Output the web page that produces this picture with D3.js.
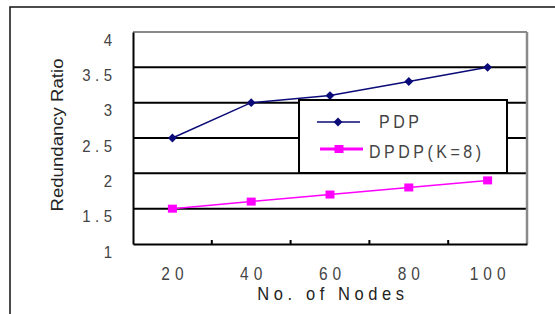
<!DOCTYPE html>
<html><head><meta charset="utf-8">
<script src="https://cdn.jsdelivr.net/npm/d3@7/dist/d3.min.js"></script>
<style>
html,body{margin:0;padding:0;background:#fff;}
svg{display:block;}
text{font-family:"Liberation Sans",Arial,sans-serif;}
</style></head>
<body>
<script>
const categories = ["20","40","60","80","100"];
const pdp = [2.5, 3.0, 3.1, 3.3, 3.5];
const dpdp = [1.5, 1.6, 1.7, 1.8, 1.9];
const yTicks = [1, 1.5, 2, 2.5, 3, 3.5, 4];
const yTickLabels = ["1","1.5","2","2.5","3","3.5","4"];
const seriesNames = ["PDP", "DPDP(K=8)"];
const xTitle = "No. of Nodes";
const yTitle = "Redundancy Ratio";

const W = 555, H = 314;
const m = {left:133, right:527, top:32, bottom:244};
const sy = 1.15; // vertical text stretch
const svg = d3.select("body").append("svg").attr("width", W).attr("height", H);

// outer frame
svg.append("rect").attr("x",10).attr("y",7).attr("width",560).attr("height",330)
  .attr("fill","none").attr("stroke","#111").attr("stroke-width",1.5);

const x = d3.scaleBand().domain(categories).range([m.left, m.right]);
const y = d3.scaleLinear().domain([1,4]).range([m.bottom, m.top]);

// gridlines
svg.append("g").selectAll("line").data(yTicks.filter(v => v > 1 && v < 4)).join("line")
  .attr("x1", m.left).attr("x2", m.right)
  .attr("y1", d => y(d)).attr("y2", d => y(d))
  .attr("stroke","#000").attr("stroke-width",2);

// plot border: top & right gray
svg.append("line").attr("x1",m.left).attr("x2",m.right).attr("y1",y(4)).attr("y2",y(4))
  .attr("stroke","#8a8a8a").attr("stroke-width",2);
svg.append("line").attr("x1",m.right).attr("x2",m.right).attr("y1",m.top).attr("y2",m.bottom)
  .attr("stroke","#8a8a8a").attr("stroke-width",2.5);

// axes
const xAxis = d3.axisBottom(x).tickSize(0).tickFormat("");
svg.append("g").attr("transform",`translate(0,${m.bottom})`).call(xAxis)
  .call(g => g.select(".domain").attr("stroke","#000").attr("stroke-width",2));
svg.append("g").selectAll("line").data(categories.slice(1)).join("line")
  .attr("x1", d => x(d)).attr("x2", d => x(d))
  .attr("y1", m.bottom).attr("y2", m.bottom - 4)
  .attr("stroke","#000").attr("stroke-width",2);

const yAxis = d3.axisLeft(y).tickValues(yTicks).tickSize(0).tickFormat("");
svg.append("g").attr("transform",`translate(${m.left},0)`).call(yAxis)
  .call(g => g.select(".domain").attr("stroke","#000").attr("stroke-width",2));

// y tick labels
const yls = 4.5;
svg.append("g").selectAll("text").data(yTicks).join("text")
  .attr("transform", d => `translate(${112 + yls},${y(d) + 13.5}) scale(1,${sy})`)
  .attr("text-anchor","end").attr("font-size",15).attr("letter-spacing", yls)
  .attr("fill","#444")
  .text((d,i) => yTickLabels[i]);

// x tick labels
const xls = 5;
svg.append("g").selectAll("text").data(categories).join("text")
  .attr("transform", d => `translate(${x(d) + x.bandwidth()/2 + xls/2},280) scale(1,${sy})`)
  .attr("text-anchor","middle").attr("font-size",15.5).attr("letter-spacing", xls)
  .attr("fill","#444")
  .text(d => d);

// axis titles
svg.append("text").attr("transform",`translate(333,300) scale(1,${sy})`).attr("text-anchor","middle")
  .attr("font-size",16.5).attr("letter-spacing",4.6).attr("fill","#222").text(xTitle);
svg.append("text").attr("transform","translate(63,135) rotate(-90)")
  .attr("text-anchor","middle").attr("font-size",16.5)
  .attr("textLength",153).attr("lengthAdjust","spacingAndGlyphs")
  .attr("fill","#222").text(yTitle);

// series
const line = d3.line().x((d,i) => x(categories[i]) + x.bandwidth()/2).y(d => y(d));
const navy = "#0a0a78", mag = "#ff00ff";
svg.append("path").datum(pdp).attr("d", line).attr("fill","none").attr("stroke",navy).attr("stroke-width",1.5);
svg.append("path").datum(dpdp).attr("d", line).attr("fill","none").attr("stroke",mag).attr("stroke-width",1.5);

const diamond = d3.symbol().type(d3.symbolDiamond2).size(50);
svg.append("g").selectAll("path").data(pdp).join("path")
  .attr("d", diamond)
  .attr("transform",(d,i) => `translate(${x(categories[i]) + x.bandwidth()/2},${y(d)})`)
  .attr("fill",navy);
svg.append("g").selectAll("rect").data(dpdp).join("rect")
  .attr("x",(d,i) => x(categories[i]) + x.bandwidth()/2 - 4.5)
  .attr("y", d => y(d) - 4)
  .attr("width",9).attr("height",8).attr("fill",mag);

// legend
const lg = svg.append("g");
lg.append("rect").attr("x",299).attr("y",100).attr("width",208).attr("height",73)
  .attr("fill","#fff").attr("stroke","#000").attr("stroke-width",2);
lg.append("line").attr("x1",317).attr("x2",360).attr("y1",122).attr("y2",122)
  .attr("stroke",navy).attr("stroke-width",1.5);
lg.append("path").attr("d",diamond).attr("transform","translate(338,122)").attr("fill",navy);
lg.append("text").attr("transform",`translate(379,128) scale(1,${sy})`).attr("font-size",16).attr("letter-spacing",3.5)
  .attr("fill","#444").text(seriesNames[0]);
lg.append("line").attr("x1",320).attr("x2",363).attr("y1",149).attr("y2",149)
  .attr("stroke",mag).attr("stroke-width",3);
lg.append("rect").attr("x",334.5).attr("y",145).attr("width",9).attr("height",8).attr("fill",mag);
lg.append("text").attr("transform",`translate(369,158) scale(1,${sy})`).attr("font-size",16).attr("letter-spacing",3.5)
  .attr("fill","#444").text(seriesNames[1]);
</script>
</body></html>
